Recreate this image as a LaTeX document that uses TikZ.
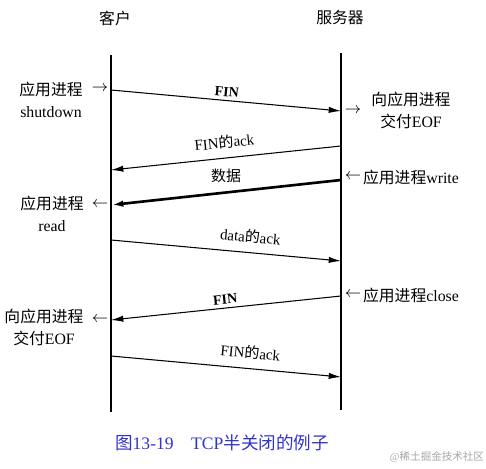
\documentclass[tikz,border=0pt]{standalone}
\usepackage{fontspec}
\setmainfont{Liberation Serif}
\newfontfamily\cjk{Noto Sans CJK SC}
\usetikzlibrary{arrows.meta}
\newcommand{\zh}[1]{{\cjk #1}}
\definecolor{capblue}{RGB}{50,50,205}

\begin{document}
\begin{tikzpicture}[x=0.02cm,y=-0.02cm,font=\fontsize{9}{12.5}\selectfont,
  life/.style={line width=0.8pt},
  msg/.style={-{Latex[length=7pt,width=3.6pt]},line width=0.6pt},
  big/.style={msg,line width=1.5pt},
  lbl/.style={align=center,inner sep=1pt},
  tag/.style={above=1pt,sloped,inner sep=1pt,font=\fontsize{8.5}{10}\selectfont}]
\useasboundingbox (0,0) rectangle (486,469);
% heads
\node (cl) at (115,18) {\zh{客户}};
\node (sv) at (340,17) {\zh{服务器}};
% life lines
\coordinate (ctop) at (111,55);  \coordinate (cbot) at (111,412);
\coordinate (stop) at (341,53);  \coordinate (sbot) at (341,410);
\draw[life] (ctop) -- (cbot);
\draw[life] (stop) -- (sbot);
% message ends
\coordinate (c1) at (111,90);  \coordinate (s1) at (341,111);
\coordinate (s2) at (341,146); \coordinate (c2) at (111,170);
\coordinate (s3) at (341,180); \coordinate (c3) at (111,205);
\coordinate (c4) at (111,240); \coordinate (s4) at (341,261);
\coordinate (s5) at (341,296); \coordinate (c5) at (111,320);
\coordinate (c6) at (111,356); \coordinate (s6) at (341,377);
% messages
\draw[msg] (c1) -- node[tag,font=\fontsize{8}{10}\selectfont\bfseries] {FIN} (s1);
\draw[msg] (s2) -- node[tag,above=3pt] {FIN\zh{的}ack} (c2);
\draw[big] (s3) -- node[tag,above=3pt,sloped=false] {\zh{数据}} (c3);
\draw[msg] (c4) -- node[tag,above=3pt,pos=0.6] {data\zh{的}ack} (s4);
\draw[msg] (s5) -- node[tag,font=\fontsize{8}{10}\selectfont\bfseries] {FIN} (c5);
\draw[msg] (c6) -- node[tag,above=3pt,pos=0.6] {FIN\zh{的}ack} (s6);
% client side
\node[lbl] (shut) at (51,100) {\zh{应用进程}\\shutdown};
\node (a1) at (100,89) {$\rightarrow$};
\node[lbl] (rd) at (52,214) {\zh{应用进程}\\read};
\node (a3) at (100,205) {$\leftarrow$};
\node[lbl] (eofc) at (44,327) {\zh{向应用进程}\\\zh{交付}EOF};
\node (a5) at (100,320) {$\leftarrow$};
% server side
\node (a2) at (353,111) {$\rightarrow$};
\node[lbl] (eofs) at (411,110) {\zh{向应用进程}\\\zh{交付}EOF};
\node (a4) at (353,177) {$\leftarrow$};
\node[anchor=west,inner sep=1pt] (wr) at (361,177) {\zh{应用进程}write};
\node (a6) at (353,295) {$\leftarrow$};
\node[anchor=west,inner sep=1pt] (cs) at (361,295) {\zh{应用进程}close};
% caption
\node[text=capblue,font=\fontsize{10}{12}\selectfont] (cap) at (222,443) {\zh{图}13-19\quad TCP\zh{半关闭的例子}};
\node[text=black!35,font=\fontsize{6}{7}\selectfont] (wm) at (437,457) {@\zh{稀土掘金技术社区}};
\end{tikzpicture}
\end{document}
